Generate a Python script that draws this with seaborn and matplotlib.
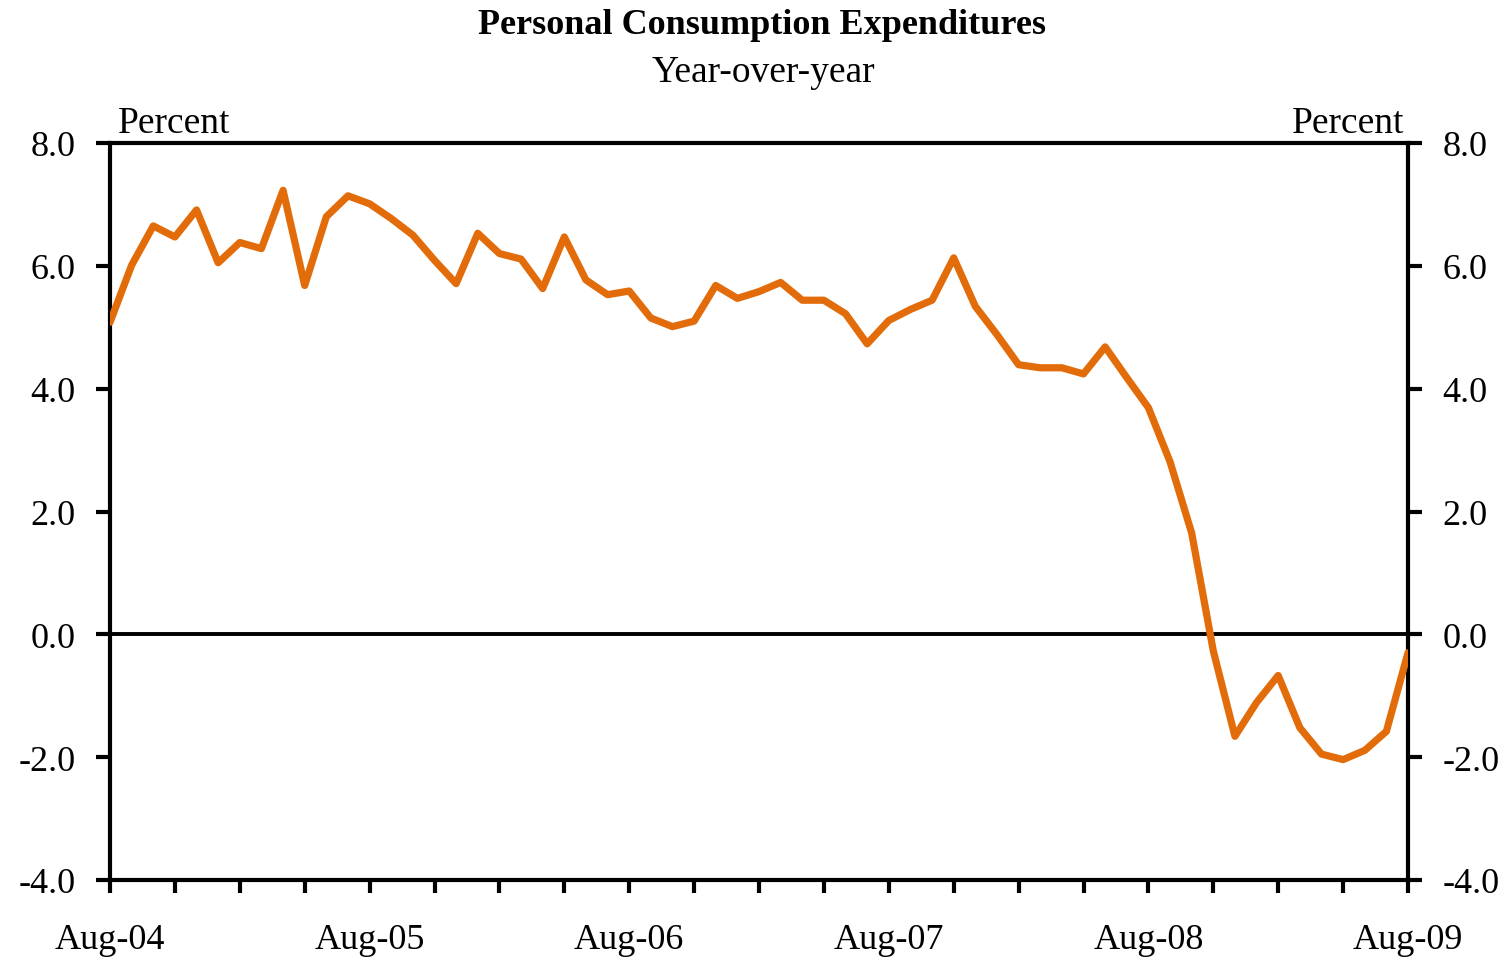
import matplotlib
matplotlib.use("Agg")
import matplotlib.pyplot as plt
import pandas as pd
import seaborn as sns

# monthly PCE, year-over-year percent change, Aug-04 .. Aug-09
pce_yoy = [
    5.08, 6.01, 6.65, 6.47, 6.91, 6.05, 6.38, 6.28, 7.23, 5.68,
    6.80, 7.14, 7.01, 6.77, 6.50, 6.09, 5.71, 6.53, 6.20, 6.11,
    5.63, 6.47, 5.77, 5.53, 5.59, 5.15, 5.01, 5.10, 5.68, 5.47,
    5.58, 5.73, 5.44, 5.44, 5.22, 4.73, 5.11, 5.29, 5.44, 6.13,
    5.34, 4.88, 4.39, 4.34, 4.34, 4.24, 4.68, 4.18, 3.69, 2.81,
    1.65, -0.27, -1.66, -1.11, -0.67, -1.52, -1.95, -2.04, -1.89, -1.58,
    -0.30,
]
year_labels = ["Aug-04", "Aug-05", "Aug-06", "Aug-07", "Aug-08", "Aug-09"]
y_ticks = [-4.0, -2.0, 0.0, 2.0, 4.0, 6.0, 8.0]

df = pd.DataFrame({"month": range(len(pce_yoy)), "pce": pce_yoy})

sns.set_theme(style="white")
plt.rcParams["font.family"] = ["Liberation Serif", "DejaVu Serif"]
plt.rcParams["axes.unicode_minus"] = False
plt.rcParams["text.color"] = "black"

fig = plt.figure(figsize=(15.05, 9.62), dpi=100)
ax = fig.add_axes([110 / 1505, 1 - 881 / 962, 1298 / 1505, 737 / 962])

ax.axhline(0, color="black", lw=2.8, zorder=1)
sns.lineplot(data=df, x="month", y="pce", ax=ax, color="#E36C0A", lw=5.2, zorder=3)

ax.set_xlim(0, len(pce_yoy) - 1)
ax.set_ylim(-4, 8)
ax.set_xticks(range(0, len(pce_yoy), 12))
ax.set_xticklabels(year_labels)
ax.set_xticks(range(0, len(pce_yoy), 3), minor=True)
ax.set_yticks(y_ticks)
ax.set_yticklabels([f"{v:.1f}" for v in y_ticks])
ax.set_xlabel("")
ax.set_ylabel("")

for s in ax.spines.values():
    s.set_linewidth(3)
    s.set_color("black")

ax.tick_params(axis="y", which="major", direction="out", length=10, width=3,
               left=True, right=True, labelleft=True, labelright=True,
               labelsize=26, pad=15, colors="black")
ax.tick_params(axis="x", which="both", direction="out", length=9, width=3,
               bottom=True, top=False, labelsize=26, pad=22, colors="black")

fig.text(0.506, 1 - 25 / 962, "Personal Consumption Expenditures", ha="center", va="center",
         fontsize=26, fontweight="bold")
fig.text(0.507, 1 - 73 / 962, "Year-over-year", ha="center", va="center", fontsize=27)
fig.text(118 / 1505, 1 - 124 / 962, "Percent", ha="left", va="center", fontsize=27)
fig.text(1404 / 1505, 1 - 124 / 962, "Percent", ha="right", va="center", fontsize=27)

fig.savefig("out.png", dpi=100)
